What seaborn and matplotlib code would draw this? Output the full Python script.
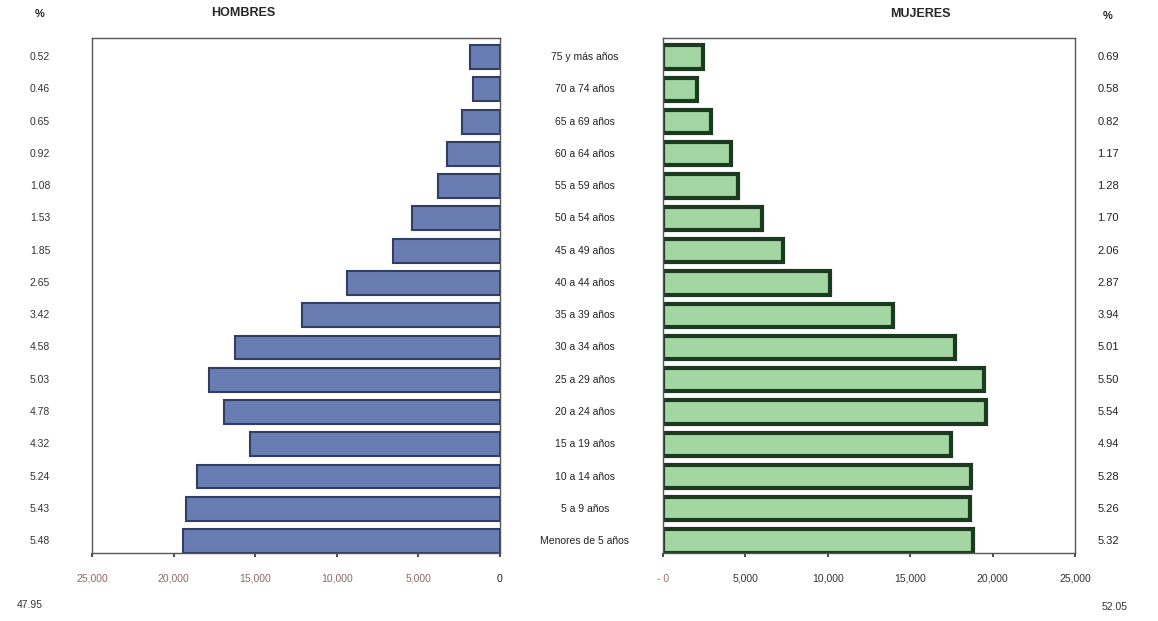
import matplotlib
matplotlib.use("Agg")
import matplotlib.pyplot as plt
import seaborn as sns
import pandas as pd
from matplotlib.ticker import FuncFormatter

sns.set_theme(style="white")
plt.rcParams['font.family'] = ['Liberation Sans', 'DejaVu Sans']

grupos = ["75 y más años", "70 a 74 años", "65 a 69 años", "60 a 64 años",
          "55 a 59 años", "50 a 54 años", "45 a 49 años", "40 a 44 años",
          "35 a 39 años", "30 a 34 años", "25 a 29 años", "20 a 24 años",
          "15 a 19 años", "10 a 14 años", "5 a 9 años", "Menores de 5 años"]
hombres = [1840, 1630, 2300, 3260, 3820, 5420, 6550, 9380,
           12110, 16220, 17810, 16930, 15300, 18560, 19230, 19410]
mujeres = [2440, 2050, 2900, 4140, 4530, 6020, 7290, 10160,
           13950, 17740, 19470, 19610, 17490, 18690, 18620, 18830]
pct_h = ["0.52", "0.46", "0.65", "0.92", "1.08", "1.53", "1.85", "2.65",
         "3.42", "4.58", "5.03", "4.78", "4.32", "5.24", "5.43", "5.48"]
pct_m = ["0.69", "0.58", "0.82", "1.17", "1.28", "1.70", "2.06", "2.87",
         "3.94", "5.01", "5.50", "5.54", "4.94", "5.28", "5.26", "5.32"]
total_h = "47.95"
total_m = "52.05"
xticks = [0, 5000, 10000, 15000, 20000, 25000]

df_h = pd.DataFrame({"grupo": grupos, "valor": hombres})
df_m = pd.DataFrame({"grupo": grupos, "valor": mujeres})

fig = plt.figure(figsize=(11.58, 6.21), dpi=100)
W, H = 1158, 621
ax_l = fig.add_axes([92 / W, 1 - 553 / H, (500 - 92) / W, (553 - 38) / H])
ax_r = fig.add_axes([663 / W, 1 - 553 / H, (1075 - 663) / W, (553 - 38) / H])

sns.barplot(data=df_h, y="grupo", x="valor", order=grupos, ax=ax_l,
            color="#6a7db3", saturation=1, width=0.74,
            edgecolor="#323d63", linewidth=1.5)
sns.barplot(data=df_m, y="grupo", x="valor", order=grupos, ax=ax_r,
            color="#a3d6a3", saturation=1, width=0.72,
            edgecolor="#1c3a20", linewidth=3.0)

ax_l.set_xlim(25000, 0)
ax_r.set_xlim(0, 25000)
for ax in (ax_l, ax_r):
    ax.set_ylim(len(grupos) - 1 + 0.37, -0.59)
    ax.set_xticks(xticks)
    ax.set_yticks([])
    ax.set_xlabel("")
    ax.set_ylabel("")
    ax.tick_params(axis="x", length=3, direction="out", bottom=True,
                   labelsize=7.5, pad=12, colors="#333333")
    for s in ax.spines.values():
        s.set_color("#555555")
        s.set_linewidth(1.0)

fmt_l = FuncFormatter(lambda v, p: f"{int(v):,}")
fmt_r = FuncFormatter(lambda v, p: "- 0" if v == 0 else f"{int(v):,}")
ax_l.xaxis.set_major_formatter(fmt_l)
ax_r.xaxis.set_major_formatter(fmt_r)
for lab in ax_l.get_xticklabels():
    lab.set_color("#8a6a6a")
ax_l.get_xticklabels()[0].set_color("#222222")
ax_r.get_xticklabels()[0].set_color("#a07070")

# Age labels in the middle and percentages on both sides
for i, g in enumerate(grupos):
    ax_l.annotate(g, xy=(0, i), xycoords=("axes fraction", "data"),
                  xytext=(585 - 92, 0), textcoords="offset pixels",
                  ha="center", va="center", fontsize=7.5, color="#222222")
    ax_l.annotate(pct_h[i], xy=(0, i), xycoords=("axes fraction", "data"),
                  xytext=(40 - 92, 0), textcoords="offset pixels",
                  ha="center", va="center", fontsize=7.5, color="#333333")
    ax_r.annotate(pct_m[i], xy=(1, i), xycoords=("axes fraction", "data"),
                  xytext=(1108 - 1075, 0), textcoords="offset pixels",
                  ha="center", va="center", fontsize=8, color="#222222")

fig.text(40 / W, 1 - 14 / H, "%", ha="center", va="center", fontsize=8, fontweight="bold")
fig.text(1108 / W, 1 - 16 / H, "%", ha="center", va="center", fontsize=8, fontweight="bold")
fig.text(243 / W, 1 - 13 / H, "HOMBRES", ha="center", va="center", fontsize=9, fontweight="bold")
fig.text(920 / W, 1 - 14 / H, "MUJERES", ha="center", va="center", fontsize=9, fontweight="bold")
fig.text(30 / W, 1 - 605 / H, total_h, ha="center", va="center", fontsize=7.5, color="#333333")
fig.text(1115 / W, 1 - 607 / H, total_m, ha="center", va="center", fontsize=7.5, color="#333333")

fig.savefig("out.png", dpi=100, facecolor="white")
